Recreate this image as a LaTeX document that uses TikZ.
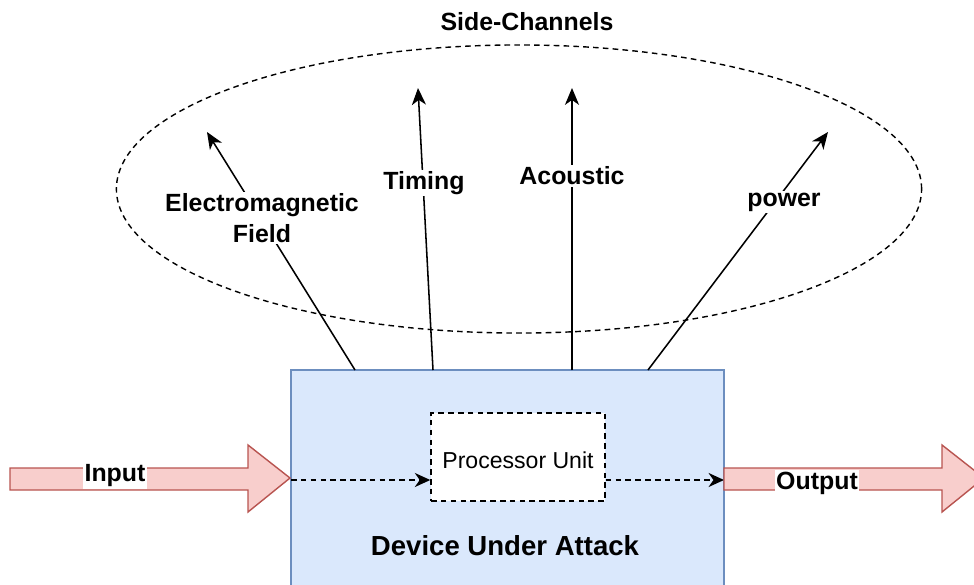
\documentclass[tikz,border=0pt]{standalone}
\usepackage{fontspec}
\setmainfont{Liberation Sans}
\usetikzlibrary{arrows.meta,shapes.geometric}
\definecolor{dutfill}{HTML}{DAE8FC}
\definecolor{dutline}{HTML}{6C8EBF}
\definecolor{fatfill}{HTML}{F8CECC}
\definecolor{fatline}{HTML}{B85450}
\tikzset{
  lbl/.style={font=\fontsize{17.7}{22}\selectfont\bfseries, align=center, inner sep=1pt},
  leak/.style={-{Stealth[length=12pt,width=10pt,inset=3.5pt]}, line width=1.1pt},
  flow/.style={-{Stealth[length=11pt,width=10pt,inset=3.5pt]}, line width=1.1pt, dash pattern=on 4pt off 3pt},
  fat/.style={fill=fatfill, draw=fatline, line width=1pt}
}
\begin{document}
\begin{tikzpicture}[x=0.025cm,y=-0.025cm]
\useasboundingbox (0,0) rectangle (974,585);
\begin{scope}
\clip (0,0) rectangle (974,585);

\node[ellipse, draw, line width=1pt, dash pattern=on 4pt off 3pt, minimum width=20.125cm, minimum height=7.2cm] (chan) at (519,189) {};
\node[lbl] (sc) at (527,22) {Side-Channels};

\node[draw=dutline, fill=dutfill, line width=1pt, minimum width=10.825cm, minimum height=5.75cm] (dut) at (507.5,485) {};
\node[draw, fill=white, line width=1pt, dash pattern=on 4pt off 3pt, minimum width=4.35cm, minimum height=2.2cm] (pu) at (518,457) {};
\node[font=\fontsize{16.4}{20}\selectfont] (putxt) at (518,460) {Processor Unit};
\node[lbl, font=\fontsize{19.6}{24}\selectfont\bfseries] (dua) at (505,546) {Device Under Attack};

\coordinate (em0) at (355,370);
\coordinate (em1) at (207,132);
\coordinate (tm0) at (433,370);
\coordinate (tm1) at (418,88);
\coordinate (ac0) at (572,370);
\coordinate (ac1) at (572,88);
\coordinate (pw0) at (648,370);
\coordinate (pw1) at (828,132);

\path [leak] (em0) edge (em1);
\path [leak] (tm0) edge (tm1);
\path [leak] (ac0) edge (ac1);
\path [leak] (pw0) edge (pw1);

\node[lbl, fill=white] (em) at (262,218) {Electromagnetic\\Field};
\node[lbl, fill=white] (tm) at (424,183) {Timing};
\node[lbl, fill=white] (ac) at (572,176) {Acoustic};
\node[lbl, fill=white] (pw) at (784,202) {power};

\coordinate (inpt) at (291,480);
\coordinate (outpt) at (724,480);
\path [flow] (inpt) edge (inpt -| pu.west);
\path [flow] (outpt -| pu.east) edge (outpt);

\draw[fat] (10,468) -- (248,468) -- (248,445) -- (290,478) -- (248,512) -- (248,490) -- (10,490) -- cycle;
\draw[fat] (724,468) -- (942,468) -- (942,445) -- (984,478) -- (942,512) -- (942,490) -- (724,490) -- cycle;
\node[lbl, fill=white] (inlbl) at (115,476) {Input};
\node[lbl, fill=white] (outlbl) at (817,483) {Output};
\end{scope}
\end{tikzpicture}
\end{document}
